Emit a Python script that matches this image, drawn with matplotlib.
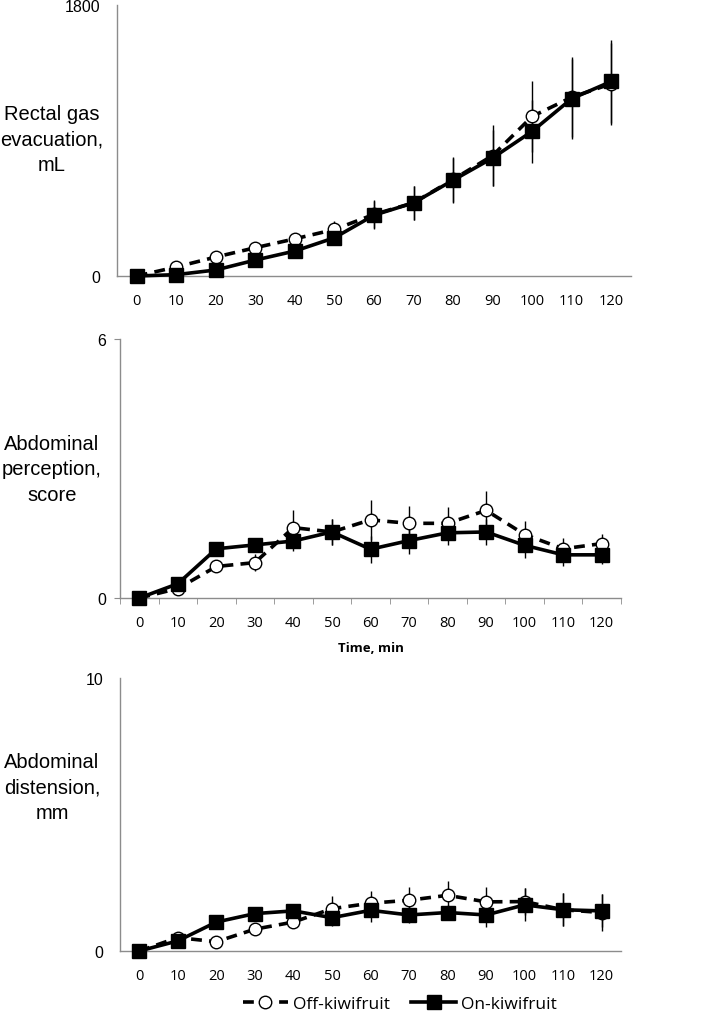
import matplotlib
matplotlib.use("Agg")
import matplotlib.pyplot as plt
from matplotlib.lines import Line2D

time_min = [0, 10, 20, 30, 40, 50, 60, 70, 80, 90, 100, 110, 120]
x_labels = [str(t) for t in time_min]

# Rectal gas evacuation, mL
gas_off = [0, 60, 126, 188, 247, 309, 409, 486, 641, 800, 1060, 1187, 1277]
gas_off_err = [0, 0, 0, 0, 0, 55, 93, 113, 150, 205, 236, 265, 273]
gas_on = [0, 9, 40, 106, 166, 254, 404, 486, 636, 784, 961, 1178, 1292]
gas_on_err = [0, 0, 0, 0, 0, 44, 93, 113, 150, 185, 210, 265, 273]

# Abdominal perception, score
perc_off = [0, 0.22, 0.73, 0.82, 1.63, 1.53, 1.81, 1.73, 1.73, 2.03, 1.47, 1.14, 1.26]
perc_off_err = [0, 0, 0, 0.2, 0.41, 0.30, 0.46, 0.41, 0.37, 0.44, 0.32, 0.25, 0.23]
perc_on = [0, 0.33, 1.14, 1.23, 1.32, 1.53, 1.13, 1.33, 1.51, 1.53, 1.22, 1.0, 1.0]
perc_on_err = [0, 0, 0, 0, 0.24, 0.31, 0.31, 0.31, 0.29, 0.31, 0.29, 0.25, 0.22]

# Abdominal distension, mm
dist_off = [0, 0.49, 0.34, 0.80, 1.06, 1.55, 1.75, 1.86, 2.04, 1.80, 1.81, 1.51, 1.41]
dist_off_err = [0, 0, 0, 0, 0, 0.47, 0.45, 0.50, 0.53, 0.56, 0.50, 0.60, 0.67]
dist_on = [0, 0.37, 1.06, 1.37, 1.47, 1.22, 1.49, 1.32, 1.41, 1.32, 1.69, 1.51, 1.47]
dist_on_err = [0, 0, 0, 0, 0, 0.31, 0.43, 0.31, 0.28, 0.43, 0.60, 0.60, 0.60]

labels = ["Rectal gas\nevacuation,\nmL", "Abdominal\nperception,\nscore",
          "Abdominal\ndistension,\nmm"]
ymaxes = [1800, 6, 10]
legend_labels = ["Off-kiwifruit", "On-kiwifruit"]

W, H = 709, 1020
fig = plt.figure(figsize=(W / 100, H / 100), dpi=100)

def rect(l, r, t, b):
    return [l / W, 1 - b / H, (r - l) / W, (b - t) / H]

rects = [rect(117, 631, 6, 277), rect(120, 621, 340, 599), rect(120, 621, 679, 952)]
label_y = [140, 470, 788]

series = [
    (gas_off, gas_off_err, gas_on, gas_on_err),
    (perc_off, perc_off_err, perc_on, perc_on_err),
    (dist_off, dist_off_err, dist_on, dist_on_err),
]

spine_col = "#8c8c8c"
dash = (0, (3.0, 2.0))
lw = 2.6

for i, (r, (off, offe, on, one)) in enumerate(zip(rects, series)):
    ax = fig.add_axes(r)
    ax.errorbar(time_min, off, yerr=offe, fmt="none", ecolor="black", elinewidth=1.0, capsize=0, zorder=2)
    ax.errorbar(time_min, on, yerr=one, fmt="none", ecolor="black", elinewidth=1.0, capsize=0, zorder=2)
    ax.plot(time_min, off, color="black", linestyle=dash, linewidth=lw, marker="o",
            markersize=9, markerfacecolor="white", markeredgecolor="black",
            markeredgewidth=1.0, zorder=3)
    ax.plot(time_min, on, color="black", linestyle="-", linewidth=lw, marker="s",
            markersize=10, markerfacecolor="black", markeredgecolor="black", zorder=4)
    ax.set_xlim(-5, 125)
    ax.set_ylim(0, ymaxes[i])
    ax.set_yticks([0, ymaxes[i]])
    ax.set_yticklabels(["0", str(ymaxes[i])], fontfamily="Liberation Sans", fontsize=11.5)
    ax.set_xticks(time_min)
    ax.set_xticklabels(x_labels, fontfamily="Open Sans", fontsize=10.5)
    for s in ["top", "right"]:
        ax.spines[s].set_visible(False)
    for s in ["left", "bottom"]:
        ax.spines[s].set_color(spine_col)
        ax.spines[s].set_linewidth(1.0)
    ax.patch.set_alpha(0)
    if i == 1:
        ax.set_xticks([-5 + 10 * k for k in range(14)], minor=True)
        ax.tick_params(axis="x", which="major", length=0, pad=12)
        ax.tick_params(axis="x", which="minor", length=4, color=spine_col, direction="out")
        ax.tick_params(axis="y", length=4, color=spine_col, pad=6)
    else:
        ax.tick_params(axis="x", length=0, pad=12)
        ax.tick_params(axis="y", length=0, pad=12)
    for art in ax.lines:
        art.set_clip_on(False)
    fig.text(52 / W, 1 - label_y[i] / H, labels[i], ha="center", va="center",
             fontfamily="Liberation Sans", fontsize=14.5, linespacing=1.45)

fig.text(371 / W, 1 - 649 / H, "Time, min", ha="center", va="center",
         fontfamily="Open Sans", fontweight="bold", fontsize=9.5)

handles = [
    Line2D([], [], color="black", linestyle=dash, linewidth=lw, marker="o", markersize=9,
           markerfacecolor="white", markeredgecolor="black", markeredgewidth=1.0),
    Line2D([], [], color="black", linestyle="-", linewidth=lw, marker="s", markersize=10,
           markerfacecolor="black"),
]
fig.legend(handles, legend_labels, loc="center", bbox_to_anchor=(400 / W, 1 - 1005 / H),
           ncol=2, frameon=False, prop={"family": "Open Sans", "size": 12.5},
           handlelength=2.6, columnspacing=1.2, handletextpad=0.3)

fig.savefig("out.png", dpi=100)
